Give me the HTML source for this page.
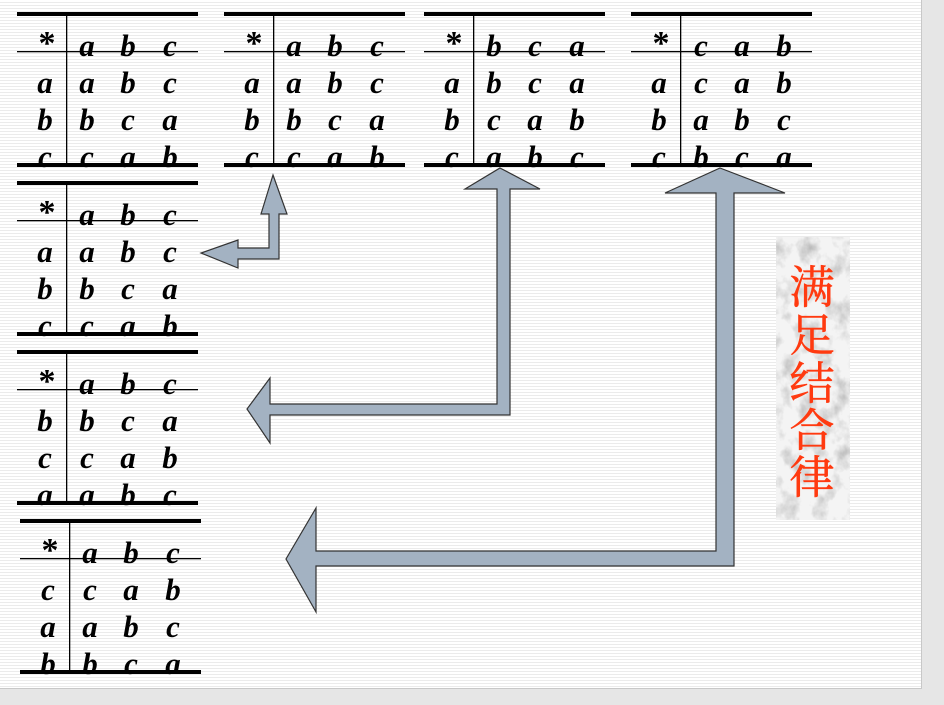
<!DOCTYPE html>
<html><head><meta charset="utf-8"><style>
body{margin:0;width:944px;height:705px;overflow:hidden;background:#e6e6e6;}
#slide{position:absolute;left:0;top:0;width:921px;height:688px;border-right:1px solid #c8c8c8;border-bottom:1px solid #c8c8c8;
background:repeating-linear-gradient(to bottom,#ffffff 0px,#ffffff 2px,#ebebeb 2px,#ebebeb 3px);overflow:hidden}
text.t{font-family:"Liberation Serif",serif;font-style:italic;font-weight:bold;font-size:31px;text-anchor:middle;fill:#000}
text.s{font-family:"Liberation Serif",serif;font-weight:bold;font-size:34px;text-anchor:middle;fill:#000}
</style></head><body>
<div id="slide">
<svg width="921" height="688" id="svg">
<defs>
<filter id="marble" filterUnits="userSpaceOnUse" x="776" y="237" width="74" height="283"><feTurbulence type="fractalNoise" baseFrequency="0.06 0.05" numOctaves="4" seed="3"/><feColorMatrix type="matrix" values="0 0 0 0 0.5 0 0 0 0 0.5 0 0 0 0 0.5 0 0 0 -2.2 1.2"/></filter>
<clipPath id="mc"><rect x="776" y="237" width="74" height="283"/></clipPath>
</defs>
<g id="tables"></g>
<polygon points="273,175 287,214 279,214 279,259 238,259 238,268 201,253 238,240 238,248 269,248 269,214 261,214" fill="#a3b2c2" stroke="#333" stroke-width="1.2"/>
<polygon points="500,168 540,189 510,189 510,415 270,415 270,443 247,409 270,378 270,404 497,404 497,189 465,189" fill="#a3b2c2" stroke="#333" stroke-width="1.2"/>
<polygon points="720,168 785,193 734,193 734,566 316,566 316,612 286,559 316,508 316,551 716,551 716,193 665,193" fill="#a3b2c2" stroke="#333" stroke-width="1.2"/>
<g clip-path="url(#mc)">
<rect x="776" y="237" width="74" height="283" fill="#f4f4f4"/>
<rect x="776" y="237" width="74" height="283" filter="url(#marble)"/>
</g>
<text font-family="'Liberation Serif','Noto Serif CJK SC',serif" font-size="45" fill="#ff3a10" stroke="#ff3a10" stroke-width="0.6" text-anchor="middle">
<tspan x="812" y="303">满</tspan><tspan x="812" y="351">足</tspan><tspan x="812" y="399">结</tspan><tspan x="812" y="446">合</tspan><tspan x="812" y="493">律</tspan>
</text>
</svg>
</div>
<script>
const tableOrigins=[[17,14],[224,14],[424,14],[631,14],[17,183],[17,352],[20,521]];
const headers=[["a","b","c"],["a","b","c"],["b","c","a"],["c","a","b"],["a","b","c"],["a","b","c"],["a","b","c"]];
const rowLabels=[["a","b","c"],["a","b","c"],["a","b","c"],["a","b","c"],["a","b","c"],["b","c","a"],["c","a","b"]];
const cells=[
[["a","b","c"],["b","c","a"],["c","a","b"]],
[["a","b","c"],["b","c","a"],["c","a","b"]],
[["b","c","a"],["c","a","b"],["a","b","c"]],
[["c","a","b"],["a","b","c"],["b","c","a"]],
[["a","b","c"],["b","c","a"],["c","a","b"]],
[["b","c","a"],["c","a","b"],["a","b","c"]],
[["c","a","b"],["a","b","c"],["b","c","a"]]];
const NS="http://www.w3.org/2000/svg";
const g=document.getElementById('tables');
function mk(tag,at,parent){const e=document.createElementNS(NS,tag);for(const k in at)e.setAttribute(k,at[k]);parent.appendChild(e);return e;}
tableOrigins.forEach((o,i)=>{
 const x=o[0],y=o[1];
 const tg=mk('g',{},g);
 
 
 const cols=[x+28,x+70,x+111,x+153];
 const put=(s,cx,cy,c)=>{const t=mk('text',{class:c||'t',x:cx,y:cy},tg);t.textContent=s;};
 put('*',cols[0]+2,y+40,'s');
 headers[i].forEach((h,j)=>put(h,cols[j+1],y+42));
 [79,116,153].forEach((dy,r)=>{put(rowLabels[i][r],cols[0],y+dy);cells[i][r].forEach((c,j)=>put(c,cols[j+1],y+dy));});
 mk('rect',{x:x,y:y-2,width:181,height:4,fill:'#000'},tg);
 mk('rect',{x:x,y:y+149,width:181,height:4,fill:'#000'},tg);
 mk('rect',{x:x,y:y+37,width:181,height:1.3,fill:'#000'},tg);
 mk('rect',{x:x+49,y:y,width:1.3,height:151,fill:'#000'},tg);
});
</script>
</body></html>
